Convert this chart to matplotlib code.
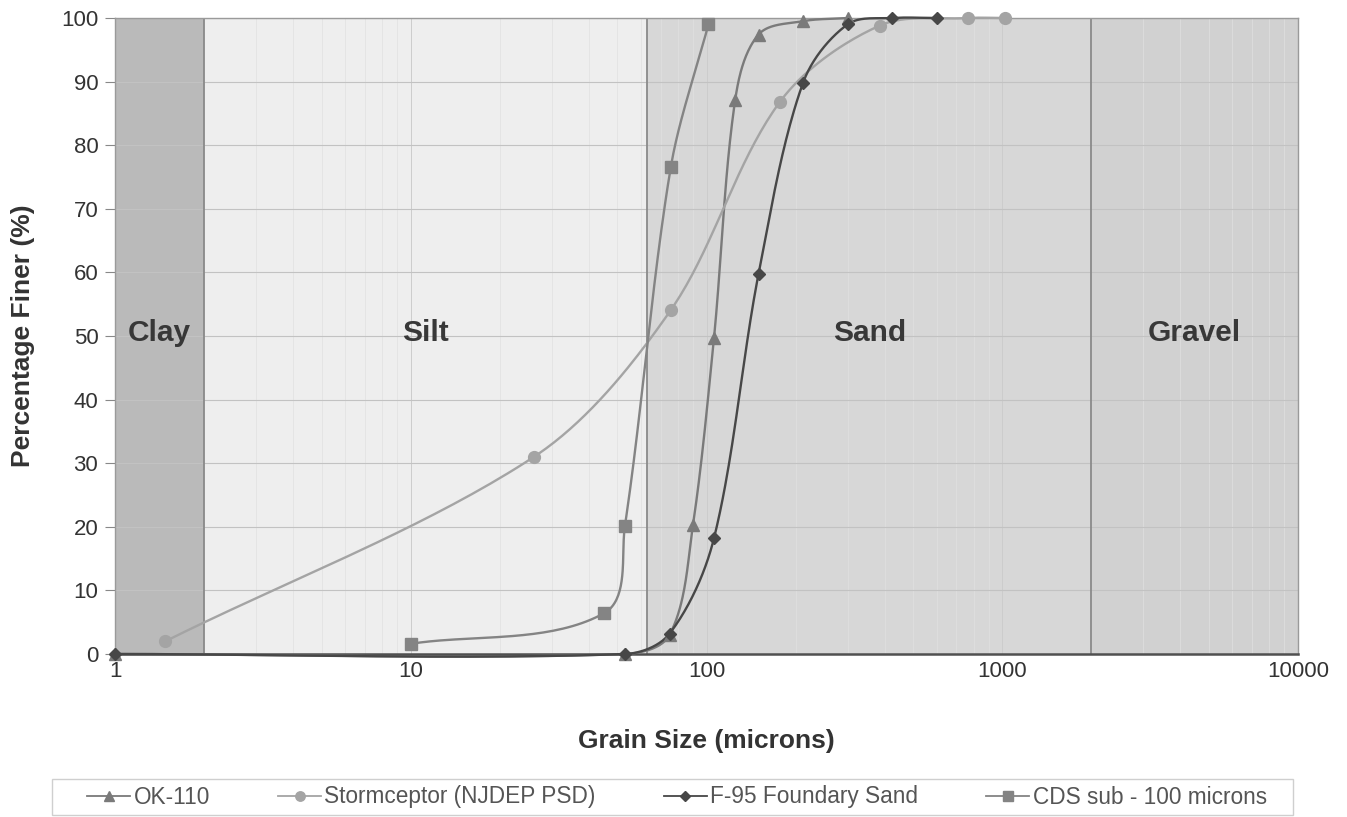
import numpy as np
import matplotlib
matplotlib.use("Agg")
import matplotlib.pyplot as plt
from matplotlib.lines import Line2D
from matplotlib.patches import Rectangle

plt.rcParams['font.family'] = ['Liberation Sans', 'DejaVu Sans']

# ---- data ----
ok110_x = [1, 53, 75, 90, 106, 125, 150, 212, 300]
ok110_y = [0, 0, 3, 20.3, 49.7, 87.1, 97.4, 99.5, 100]

storm_x = [1.48, 26.1, 75.8, 177, 385, 765, 1020]
storm_y = [2.0, 31.0, 54.1, 86.8, 98.8, 100, 100]

f95_x = [1, 53, 75, 106, 150, 212, 300, 425, 600]
f95_y = [0, 0, 3.2, 18.2, 59.8, 89.8, 99.0, 100, 100]

cds_x = [10, 45, 53, 75.7, 101.5]
cds_y = [1.6, 6.4, 20.2, 76.5, 99.0]

zone_names = ["Clay", "Silt", "Sand", "Gravel"]
zone_edges = [1, 2, 63, 2000, 10000]
zone_colors = ["#bababa", "#eeeeee", "#d7d7d7", "#d1d1d1"]

series = [
    ("OK-110", ok110_x, ok110_y, "^", "#7a7a7a", 9),
    ("Stormceptor (NJDEP PSD)", storm_x, storm_y, "o", "#a4a4a4", 8.5),
    ("F-95 Foundary Sand", f95_x, f95_y, "D", "#474747", 6.5),
    ("CDS sub - 100 microns", cds_x, cds_y, "s", "#848484", 8.5),
]

W, H = 1347, 817
fig = plt.figure(figsize=(W / 100, H / 100), dpi=100)
ax = fig.add_axes([115 / W, 1 - 654 / H, (1298 - 115) / W, (654 - 18) / H])
ax.set_xscale("log")
ax.set_xlim(1, 10000)
ax.set_ylim(0, 100)

# zones
for i, name in enumerate(zone_names):
    lo, hi = zone_edges[i], zone_edges[i + 1]
    ax.axvspan(lo, hi, color=zone_colors[i], zorder=0, lw=0)
    ax.text(np.sqrt(lo * hi), 50.5, name, ha="center", va="center",
            fontsize=21.5, fontweight="bold", color="#383838", zorder=5)
for e in zone_edges[1:-1]:
    ax.axvline(e, color="#8a8a8a", lw=1.3, zorder=1)

# grid
ax.set_yticks(np.arange(0, 101, 10))
ax.grid(axis="y", which="major", color="#c2c2c2", lw=0.8, zorder=1)
ax.grid(axis="x", which="minor", color="#e0e0e0", lw=0.5, zorder=1)
ax.grid(axis="x", which="major", color="#cccccc", lw=0.7, zorder=1)
ax.set_axisbelow(True)

fig.canvas.draw()


def smooth(xs, ys, n=40, k=0.32):
    pts = ax.transData.transform(np.column_stack([xs, ys]))
    m = len(pts)
    out = []
    t = np.linspace(0, 1, n)[:, None]

    def unit(v):
        nv = np.hypot(*v)
        return v / nv if nv > 0 else v

    for i in range(m - 1):
        p1, p2 = pts[i], pts[i + 1]
        p0 = pts[i - 1] if i > 0 else p1
        p3 = pts[i + 2] if i + 2 < m else p2
        L = np.hypot(*(p2 - p1))
        c1 = p1 + unit(p2 - p0) * L * k
        c2 = p2 - unit(p3 - p1) * L * k
        seg = ((1 - t) ** 3) * p1 + 3 * ((1 - t) ** 2) * t * c1 + 3 * (1 - t) * t ** 2 * c2 + t ** 3 * p2
        out.append(seg if i == 0 else seg[1:])
    out = np.vstack(out)
    data = ax.transData.inverted().transform(out)
    return data[:, 0], data[:, 1]


handles = []
for name, xs, ys, mk, col, ms in series:
    sx, sy = smooth(xs, ys)
    ax.plot(sx, sy, color=col, lw=1.7, zorder=3, clip_on=False)
    ax.plot(xs, ys, ls="none", marker=mk, ms=ms, color=col, mec=col, zorder=4, clip_on=False)
    handles.append(Line2D([0], [0], color=col, lw=1.3, marker=mk, ms=ms * 0.8, mec=col, label=name))

# axes styling
for s in ["top", "right", "left"]:
    ax.spines[s].set_color("#9a9a9a")
    ax.spines[s].set_linewidth(1.0)
ax.spines["bottom"].set_color("#505050")
ax.spines["bottom"].set_linewidth(1.8)

ax.set_xticks([1, 10, 100, 1000, 10000])
ax.set_xticklabels(["1", "10", "100", "1000", "10000"])
ax.tick_params(axis="x", which="both", length=0, pad=5, labelsize=16, labelcolor="#333333")
ax.tick_params(axis="y", which="major", length=7, color="#888888", pad=5, labelsize=16, labelcolor="#333333")

ax.set_xlabel("Grain Size (microns)", fontsize=19, fontweight="bold", color="#333333", labelpad=34)
ax.set_ylabel("Percentage Finer (%)", fontsize=19, fontweight="bold", color="#333333", labelpad=19)

# legend box (Excel-style wide frame)
fig.patches.append(Rectangle((52 / W, 1 - 815 / H), (1293 - 52) / W, 36 / H,
                             transform=fig.transFigure, facecolor="white",
                             edgecolor="#cfcfcf", lw=1.0, zorder=0))
leg = fig.legend(handles=handles, loc="center", ncol=4,
                 bbox_to_anchor=(677 / W, 1 - 797 / H),
                 frameon=False, fontsize=16.3, handlelength=1.9,
                 borderpad=0.2, handletextpad=0.15, columnspacing=3.0)
for t in leg.get_texts():
    t.set_color("#555555")

fig.savefig("out.png", dpi=100)
